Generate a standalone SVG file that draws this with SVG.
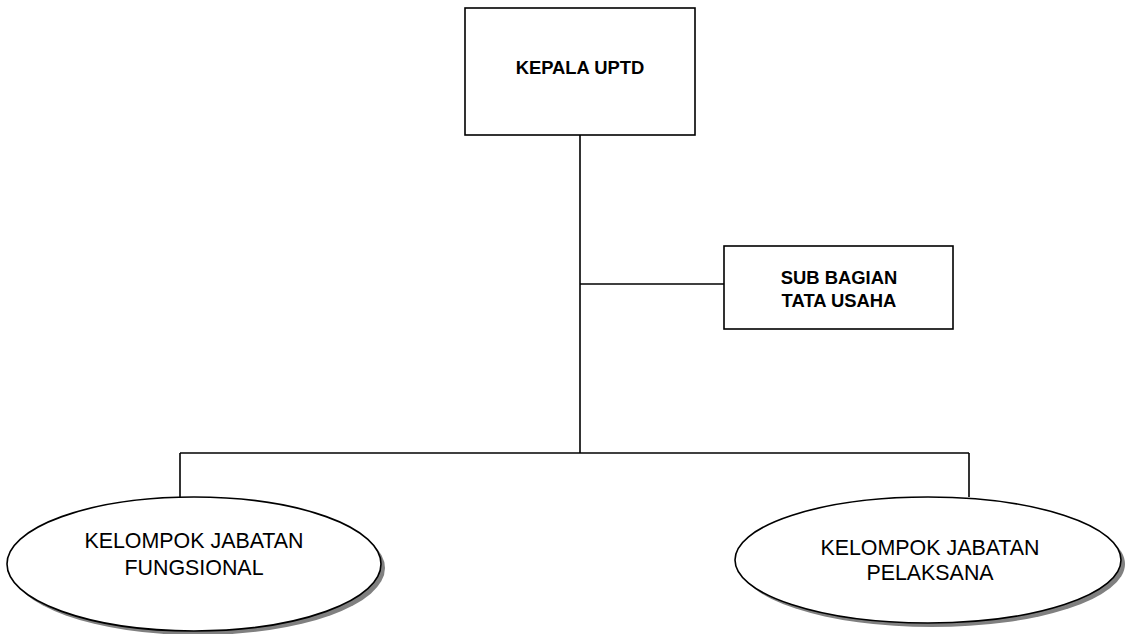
<svg xmlns="http://www.w3.org/2000/svg" width="1128" height="634" viewBox="0 0 1128 634">
<style>
.box{fill:#fff;stroke:#000;stroke-width:1.6}
.sh{fill:#808080}
.ell{fill:#fff;stroke:#000;stroke-width:1.6}
.con{stroke:#000;stroke-width:1.6;fill:none}
.b{font-family:"Liberation Sans",Arial,sans-serif;font-weight:bold;font-size:18.4px;text-anchor:middle;fill:#000}
.r{font-family:"Liberation Sans",Arial,sans-serif;font-size:21.4px;text-anchor:middle;fill:#000}
</style>
<rect width="1128" height="634" fill="#fff"/>
<g id="connectors">
<line class="con" x1="580" y1="135" x2="580" y2="453"/>
<line class="con" x1="580" y1="284" x2="724" y2="284"/>
<line class="con" x1="180" y1="453" x2="969" y2="453"/>
<line class="con" x1="180" y1="453" x2="180" y2="497"/>
<line class="con" x1="969" y1="453" x2="969" y2="497"/>
</g>
<g id="kepala">
<rect class="box" x="465" y="8" width="230" height="127"/>
<text class="b" x="580" y="74">KEPALA UPTD</text>
</g>
<g id="subbagian">
<rect class="box" x="724" y="246" width="229" height="83"/>
<text class="b" x="839" y="284">SUB BAGIAN</text>
<text class="b" x="839" y="307">TATA USAHA</text>
</g>
<g id="fungsional">
<ellipse class="sh" cx="198" cy="568" rx="187" ry="67"/>
<ellipse class="ell" cx="194" cy="564" rx="187" ry="67"/>
<text class="r" x="194" y="548">KELOMPOK JABATAN</text>
<text class="r" x="194" y="575">FUNGSIONAL</text>
</g>
<g id="pelaksana">
<ellipse class="sh" cx="932" cy="564" rx="193" ry="63"/>
<ellipse class="ell" cx="928" cy="560" rx="193" ry="63"/>
<text class="r" x="930" y="555">KELOMPOK JABATAN</text>
<text class="r" x="930" y="580">PELAKSANA</text>
</g>
</svg>
